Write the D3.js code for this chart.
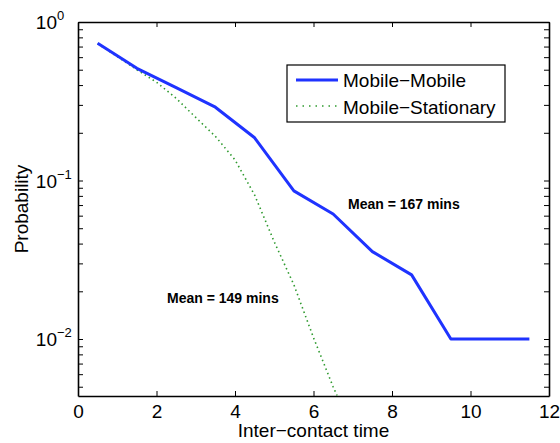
<!DOCTYPE html>
<html>
<head>
<meta charset="utf-8">
<script src="https://cdn.jsdelivr.net/npm/d3@7"></script>
<style>
  body { margin: 0; background: #fff; }
  text { font-family: "Liberation Sans", Arial, Helvetica, sans-serif; }
</style>
</head>
<body>
<div id="vis"></div>
<script>
// data
let mobileX = [0.5, 1.5, 2.5, 3.5, 4.5, 5.5, 6.5, 7.5, 8.5, 9.5, 10.5, 11.5];
let mobileY = [0.734, 0.51, 0.385, 0.29, 0.186, 0.086, 0.0615, 0.0356, 0.0254, 0.01, 0.01, 0.01];

let statX = [0.5, 1.0, 1.5, 2.0, 2.5, 3.0, 3.5, 4.0, 4.5, 5.0, 5.5, 6.0, 6.5, 6.6];
let statY = [0.73, 0.605, 0.5, 0.417, 0.33, 0.25, 0.19, 0.135, 0.081, 0.041, 0.022, 0.0102, 0.005, 0.0044];

let xTicks = [0, 2, 4, 6, 8, 10, 12];
let yMajor = [1, 0.1, 0.01];
let yExp = ['0', '\u22121', '\u22122'];
let yMinor = [0.005, 0.006, 0.007, 0.008, 0.009,
              0.02, 0.03, 0.04, 0.05, 0.06, 0.07, 0.08, 0.09,
              0.2, 0.3, 0.4, 0.5, 0.6, 0.7, 0.8, 0.9];
let legendNames = ['Mobile\u2212Mobile', 'Mobile\u2212Stationary'];

let W = 560, H = 443;
let margin = { top: 22, left: 78, right: 11, bottom: 47 };
let x0 = margin.left, x1 = W - margin.right, y0 = margin.top, y1 = H - margin.bottom;

let svg = d3.select('#vis').append('svg')
    .attr('width', W).attr('height', H)
    .style('background', '#fff');

let x = d3.scaleLinear().domain([0, 12]).range([x0, x1]);
let y = d3.scaleLog().domain([0.00437, 1]).range([y1, y0]);

svg.append('clipPath').attr('id', 'clip')
    .append('rect').attr('x', x0).attr('y', y0).attr('width', x1 - x0).attr('height', y1 - y0);

// axes, ticks pointing inward
let tk = 5;
let axisStyle = g => {
    g.selectAll('path').attr('stroke', '#000').attr('stroke-width', 1.6);
    g.selectAll('line').attr('stroke', '#000').attr('stroke-width', 1);
};

svg.append('g').attr('transform', `translate(0,${y1})`)
    .call(d3.axisBottom(x).tickValues(xTicks).tickSizeInner(-tk).tickSizeOuter(0))
    .call(axisStyle)
    .call(g => g.selectAll('text').attr('font-size', 19).attr('fill', '#000')
        .attr('font-family', '"Liberation Sans", Arial, sans-serif')
        .attr('y', 22).attr('dy', null));

svg.append('g').attr('transform', `translate(0,${y0})`)
    .call(d3.axisTop(x).tickValues(xTicks).tickSizeInner(-tk).tickSizeOuter(0).tickFormat(''))
    .call(axisStyle);

let yAll = yMajor.concat(yMinor);
svg.append('g').attr('transform', `translate(${x0},0)`)
    .call(d3.axisLeft(y).tickValues(yAll).tickSizeInner(-tk).tickSizeOuter(0).tickFormat(''))
    .call(axisStyle);

svg.append('g').attr('transform', `translate(${x1},0)`)
    .call(d3.axisRight(y).tickValues(yAll).tickSizeInner(-tk).tickSizeOuter(0).tickFormat(''))
    .call(axisStyle);

// y tick labels 10^n
let yl = svg.append('g').selectAll('g').data(yMajor).join('g')
    .attr('transform', d => `translate(${x0 - 21},${y(d) + 7})`);
yl.append('text').attr('text-anchor', 'end').attr('font-size', 19).text('10');
yl.append('text').attr('x', 0).attr('y', -9).attr('font-size', 13)
    .text((d, i) => yExp[i]);

// axis titles
svg.append('text').attr('x', (x0 + x1) / 2).attr('y', 437)
    .attr('text-anchor', 'middle').attr('font-size', 19).text('Inter\u2212contact time');
svg.append('text').attr('transform', `translate(28,${(y0 + y1) / 2}) rotate(-90)`)
    .attr('text-anchor', 'middle').attr('font-size', 19).text('Probability');

// lines
let line = d3.line().x(d => x(d[0])).y(d => y(d[1]));
let plot = svg.append('g').attr('clip-path', 'url(#clip)');

plot.append('path').datum(d3.zip(statX, statY))
    .attr('d', line).attr('fill', 'none')
    .attr('stroke', '#2f9a2f').attr('stroke-width', 1.6)
    .attr('stroke-dasharray', '1.5,3.2');

plot.append('path').datum(d3.zip(mobileX, mobileY))
    .attr('d', line).attr('fill', 'none')
    .attr('stroke', '#1f33ff').attr('stroke-width', 3)
    .attr('stroke-linejoin', 'round');

// annotations
svg.append('text').attr('x', 348).attr('y', 209)
    .attr('font-size', 14).attr('font-weight', 'bold').text('Mean = 167 mins');
svg.append('text').attr('x', 167).attr('y', 303)
    .attr('font-size', 14).attr('font-weight', 'bold').text('Mean = 149 mins');

// legend
let lg = svg.append('g');
lg.append('rect').attr('x', 287).attr('y', 65).attr('width', 218).attr('height', 57)
    .attr('fill', '#fff').attr('stroke', '#000').attr('stroke-width', 1.2);
lg.append('line').attr('x1', 296).attr('x2', 338).attr('y1', 80).attr('y2', 80)
    .attr('stroke', '#1f33ff').attr('stroke-width', 3);
lg.append('line').attr('x1', 296).attr('x2', 338).attr('y1', 106).attr('y2', 106)
    .attr('stroke', '#2f9a2f').attr('stroke-width', 1.6).attr('stroke-dasharray', '1.5,5');
lg.selectAll('text.name').data(legendNames).join('text')
    .attr('class', 'name')
    .attr('x', 343).attr('y', (d, i) => 87 + i * 26.5)
    .attr('font-size', 19).text(d => d);
</script>
</body>
</html>
